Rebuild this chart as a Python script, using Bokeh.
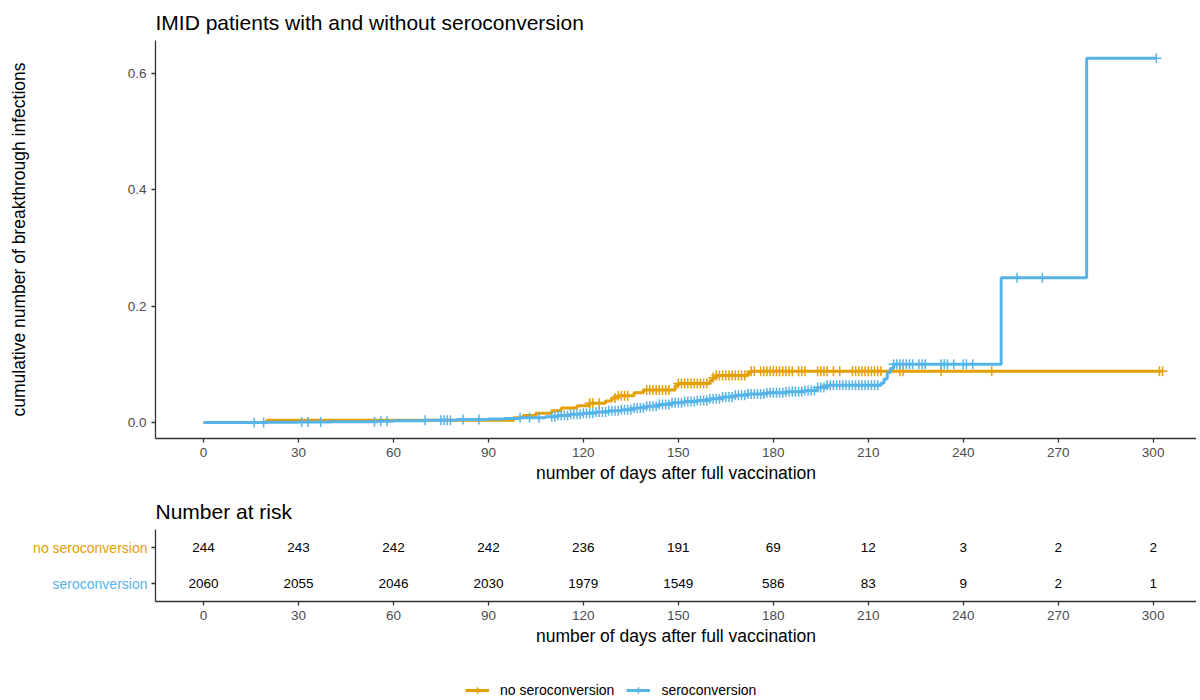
import numpy as np
from bokeh.plotting import figure
from bokeh.models import (Range1d, FixedTicker, PrintfTickFormatter,
                          Legend, LegendItem, ColumnDataSource)
from bokeh.layouts import column, row
from bokeh.embed import file_html
from bokeh.resources import INLINE

# ---------------- data ----------------
group_names = ["no seroconversion", "seroconversion"]
colors = ["#E69F00", "#56B4E9"]

# step curves (time in days, cumulative incidence)
orange_t = [0, 20, 98, 101, 105, 110, 113, 118, 122, 127, 129, 131, 136, 139,
            149, 150, 160, 161, 162, 172, 173, 303]
orange_v = [0, 0.004, 0.008, 0.012, 0.016, 0.020, 0.025, 0.029, 0.033, 0.037,
            0.042, 0.046, 0.051, 0.056, 0.063, 0.067, 0.072, 0.077, 0.081,
            0.085, 0.088, 0.088]

blue_t = [0, 20, 30, 40, 55, 60, 70, 80, 90, 95, 100, 108, 112, 116, 120, 124,
          128, 132, 136, 140, 144, 148, 152, 156, 160, 164, 168, 172, 178, 184,
          190, 194, 197, 214, 215, 216, 217, 218, 252, 279, 301]
blue_v = [0, 0.0005, 0.001, 0.0015, 0.002, 0.003, 0.004, 0.005, 0.006, 0.007,
          0.008, 0.010, 0.012, 0.014, 0.016, 0.018, 0.020, 0.022, 0.025, 0.028,
          0.031, 0.034, 0.036, 0.038, 0.041, 0.044, 0.047, 0.049, 0.051, 0.053,
          0.055, 0.060, 0.064, 0.068, 0.075, 0.086, 0.093, 0.100, 0.249, 0.626,
          0.626]

# censoring times
orange_censor = [122, 123, 125, 130, 131, 132, 133, 134, 140, 141, 142, 143, 144,
                 145, 146, 147, 150, 151, 152, 153, 154, 155, 156, 157, 158, 159,
                 161, 162, 163, 164, 165, 166, 167, 168, 169, 170, 171, 173, 174,
                 176, 177, 178, 179, 180, 181, 182, 183, 184, 185, 186, 188, 189,
                 190, 194, 195, 196, 197, 199, 201, 205, 206, 207, 208, 209, 210,
                 211, 212, 213, 214, 220, 221, 233, 249, 302, 303]
blue_censor = [16, 19, 31, 33, 37, 54, 56, 58, 70, 75, 76, 77, 78, 82, 87, 100,
               103, 106, 110, 111, 112, 113, 114, 115, 116, 117, 118, 119, 120,
               121, 122, 123, 124, 125, 126, 127, 128, 129, 130, 131, 132, 133,
               134, 135, 136, 137, 138, 139, 140, 141, 142, 143, 144, 145, 146,
               147, 148, 149, 150, 151, 152, 153, 154, 155, 156, 157, 158, 159,
               160, 161, 162, 163, 164, 165, 166, 167, 168, 169, 170, 171, 172,
               173, 174, 175, 176, 177, 178, 179, 180, 181, 182, 183, 184, 185,
               186, 187, 188, 189, 190, 191, 192, 193, 194, 195, 196, 197, 198,
               199, 200, 201, 202, 203, 204, 205, 206, 207, 208, 209, 210, 211,
               212, 213, 218, 219, 220, 221, 222, 223, 224, 226, 227, 228, 233,
               234, 235, 237, 240, 241, 243, 257, 265, 301]

# number at risk table
risk_times = [0, 30, 60, 90, 120, 150, 180, 210, 240, 270, 300]
risk_no_sero = [244, 243, 242, 242, 236, 191, 69, 12, 3, 2, 2]
risk_sero = [2060, 2055, 2046, 2030, 1979, 1549, 586, 83, 9, 2, 1]

x_ticks = [0, 30, 60, 90, 120, 150, 180, 210, 240, 270, 300]
y_ticks = [0.0, 0.2, 0.4, 0.6]

FONT = "Liberation Sans"
AXIS_COL = "#333333"
TICK_COL = "#4D4D4D"
TOTAL_W = 1196
LEFT = 155


def step_at(ts, vs, c):
    ts = np.asarray(ts, float)
    idx = np.searchsorted(ts, np.asarray(c, float), side="right") - 1
    return np.asarray(vs, float)[idx]


def style_axes(fig):
    for ax in fig.axis:
        ax.axis_line_color = AXIS_COL
        ax.axis_line_width = 1.3
        ax.major_tick_line_color = AXIS_COL
        ax.major_tick_line_width = 1.3
        ax.major_tick_out = 4
        ax.major_tick_in = 0
        ax.minor_tick_line_color = None
        ax.major_label_text_color = TICK_COL
        ax.major_label_text_font = FONT
        ax.major_label_text_font_size = "13.5px"
        ax.axis_label_text_font = FONT
        ax.axis_label_text_font_size = "17.5px"
        ax.axis_label_text_font_style = "normal"
        ax.axis_label_text_color = "#000000"
    fig.grid.visible = False
    fig.outline_line_color = None


def style_title(fig, text):
    fig.title.text = text
    fig.title.text_font = FONT
    fig.title.text_font_size = "21px"
    fig.title.text_font_style = "normal"
    fig.title.text_color = "#000000"
    fig.title.offset = 0
    fig.title.standoff = 14


XR = (-15.17, 313.7)

# ---------------- main plot ----------------
p = figure(width=TOTAL_W, height=490, output_backend="svg", toolbar_location=None,
           x_range=Range1d(*XR), y_range=Range1d(-0.0275, 0.6567),
           min_border_left=LEFT, min_border_right=0, min_border_top=40,
           min_border_bottom=52)
style_title(p, "IMID patients with and without seroconversion")

for ts, vs, cens, col in [(orange_t, orange_v, orange_censor, colors[0]),
                          (blue_t, blue_v, blue_censor, colors[1])]:
    p.step(ts, vs, mode="after", line_color=col, line_width=3)
    p.scatter(cens, step_at(ts, vs, cens), marker="cross", size=10,
              line_color=col, line_width=1.5)

p.xaxis.ticker = FixedTicker(ticks=x_ticks)
p.yaxis.ticker = FixedTicker(ticks=y_ticks)
p.yaxis.formatter = PrintfTickFormatter(format="%.1f")
p.xaxis.axis_label = "number of days after full vaccination"
p.yaxis.axis_label = "cumulative number of breakthrough infections"
style_axes(p)
p.yaxis.axis_label_standoff = 96
p.xaxis.axis_label_standoff = 3

# ---------------- risk table: row labels ----------------
LAB_W = 148
lab = figure(width=LAB_W, height=165, output_backend="svg", toolbar_location=None,
             x_range=Range1d(0, LAB_W), y_range=Range1d(0, 2),
             min_border_left=0, min_border_right=0, min_border_top=38,
             min_border_bottom=54, x_axis_location=None, y_axis_location=None)
lab.grid.visible = False
lab.outline_line_color = None
lab.text(x=[LAB_W - 1, LAB_W - 1], y=[1.5, 0.5], text=group_names,
         text_color=colors, text_align="right", text_baseline="middle",
         text_font_size="14px", text_font={"value": FONT})

# ---------------- risk table ----------------
r = figure(width=TOTAL_W - LAB_W, height=165, output_backend="svg",
           toolbar_location=None, x_range=Range1d(*XR), y_range=Range1d(0, 2),
           min_border_left=LEFT - LAB_W, min_border_right=0, min_border_top=38,
           min_border_bottom=54)
style_title(r, "Number at risk")

src = ColumnDataSource(dict(
    x=risk_times + risk_times,
    y=[1.5] * len(risk_times) + [0.5] * len(risk_times),
    t=[str(v) for v in risk_no_sero] + [str(v) for v in risk_sero]))
r.text(x="x", y="y", text="t", source=src, text_align="center",
       text_baseline="middle", text_font_size="13.5px", text_color="#000000",
       text_font={"value": FONT})

r.xaxis.ticker = FixedTicker(ticks=x_ticks)
r.yaxis.ticker = FixedTicker(ticks=[0.5, 1.5])
r.yaxis.major_label_overrides = {0.5: "", 1.5: ""}
r.xaxis.axis_label = "number of days after full vaccination"
style_axes(r)
r.yaxis.major_label_standoff = 0
r.yaxis.major_label_text_font_size = "0px"
r.xaxis.axis_label_standoff = 3

# ---------------- legend ----------------
lg = figure(width=TOTAL_W, height=43, output_backend="svg", toolbar_location=None,
            x_range=Range1d(0, 1), y_range=Range1d(0, 1), min_border=0,
            x_axis_location=None, y_axis_location=None)
lg.grid.visible = False
lg.outline_line_color = None
items = []
for name, col in zip(group_names, colors):
    l1 = lg.line([5, 6], [5, 5], line_color=col, line_width=3)
    l2 = lg.scatter([5], [5], marker="cross", size=10, line_color=col, line_width=1.5)
    items.append(LegendItem(label=name, renderers=[l1, l2]))
legend = Legend(items=items, orientation="horizontal", location=(310, 0),
                background_fill_alpha=0, border_line_color=None,
                label_text_font=FONT, label_text_font_size="14px",
                label_text_color="#000000",
                glyph_width=24, glyph_height=16, label_standoff=11, spacing=12,
                padding=0, margin=0)
lg.add_layout(legend)

layout = column(p, row(lab, r, spacing=0), lg, spacing=0)
open("out.html", "w").write(file_html(layout, INLINE))
